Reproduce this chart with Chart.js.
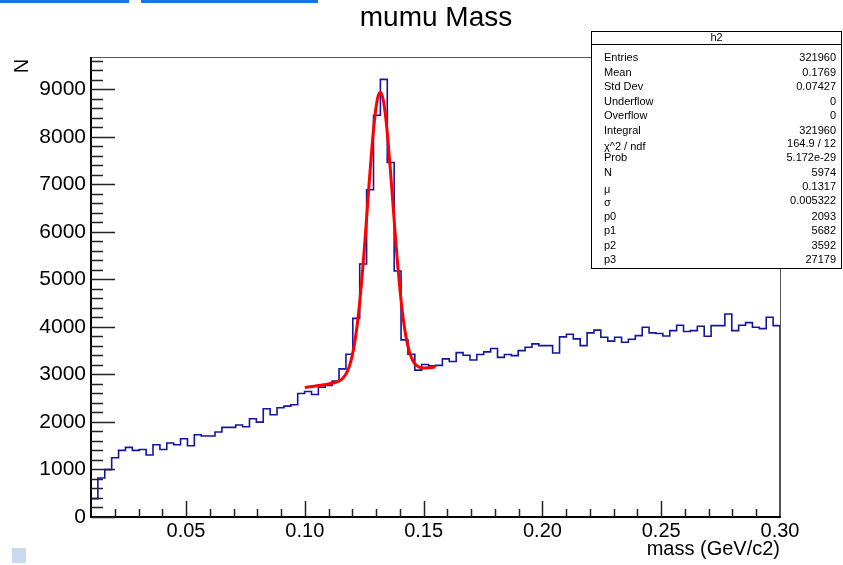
<!DOCTYPE html>
<html>
<head>
<meta charset="utf-8">
<title>mumu Mass</title>
<script src="https://cdn.jsdelivr.net/npm/chart.js"></script>
<style>
  html, body { margin: 0; padding: 0; background: #fff; }
  #wrap { width: 843px; height: 565px; position: relative; }
</style>
</head>
<body>
<div id="wrap"><canvas id="myChart"></canvas></div>
<script>
// histogram h2 : 100 bins between 0.01 and 0.30
const binLow = 0.01;
const binHigh = 0.30;
const nBins = 100;
const counts = [
  387, 821, 996, 1248, 1401, 1465, 1401, 1422, 1304, 1521,
  1422, 1556, 1521, 1647, 1500, 1731, 1706, 1706, 1790, 1885,
  1885, 1935, 1900, 2067, 1997, 2277, 2151, 2300, 2333, 2361,
  2600, 2641, 2578, 2729, 2770, 2860, 3118, 3425, 4180, 5324,
  6885, 8454, 9210, 7460, 5176, 3727, 3426, 3090, 3210, 3180,
  3190, 3328, 3271, 3460, 3405, 3303, 3420, 3475, 3545, 3360,
  3420, 3395, 3502, 3573, 3643, 3607, 3607, 3450, 3790, 3845,
  3748, 3607, 3874, 3933, 3783, 3700, 3783, 3678, 3740, 3817,
  3994, 3874, 3860, 3810, 3923, 4035, 3905, 3923, 4013, 3804,
  4027, 4027, 4273, 3923, 4035, 4090, 3994, 3965, 4203, 4027
];

// red fit line
const fitX = [0.100, 0.104, 0.108, 0.112, 0.114, 0.116, 0.118, 0.119, 0.120, 0.121,
              0.122, 0.123, 0.124, 0.125, 0.126, 0.127, 0.128, 0.129, 0.130, 0.131,
              0.132, 0.133, 0.134, 0.135, 0.136, 0.137, 0.138, 0.139, 0.140, 0.141,
              0.142, 0.143, 0.144, 0.145, 0.146, 0.148, 0.150, 0.152, 0.155];
const fitY = [2724, 2753, 2783, 2819, 2851, 2920, 3076, 3212, 3407, 3673,
              4024, 4467, 5002, 5617, 6287, 6973, 7628, 8196, 8629, 8883,
              8933, 8775, 8426, 7921, 7311, 6647, 5982, 5357, 4804, 4339,
              3968, 3685, 3480, 3338, 3245, 3156, 3134, 3139, 3161];

// axis ticks
const xTicks = [0.05, 0.10, 0.15, 0.20, 0.25, 0.30];
const yTicks = [0, 1000, 2000, 3000, 4000, 5000, 6000, 7000, 8000, 9000];
const yMax = 9680;

// stats box
const statNames = ['Entries', 'Mean', 'Std Dev', 'Underflow', 'Overflow', 'Integral',
                   'χ^2 / ndf', 'Prob', 'N', 'μ', 'σ', 'p0', 'p1', 'p2', 'p3'];
const statValues = ['321960', '0.1769', '0.07427', '0', '0', '321960',
                    '164.9 / 12', '5.172e-29', '5974', '0.1317', '0.005322', '2093', '5682', '3592', '27179'];
// y position of each row (labels / values)
const statNameY = [58, 72.5, 87, 101.5, 116, 130.5, 147, 158, 173, 189.5, 203, 216.5, 231, 245.5, 260];
const statValueY = [58, 72.5, 87, 101.5, 116, 130.5, 144, 158, 173, 186.5, 201, 216.5, 231, 245.5, 260];

const font = '"Liberation Sans", Arial, Helvetica, sans-serif';
Chart.defaults.font.family = font;

// step points for the histogram outline
const binWidth = (binHigh - binLow) / nBins;
const histPoints = [{x: binLow, y: 0}];
for (let i = 0; i < nBins; i++) {
  histPoints.push({x: binLow + i * binWidth, y: counts[i]});
}
histPoints.push({x: binHigh, y: counts[nBins - 1]});
histPoints.push({x: binHigh, y: 0});

const fitPoints = fitX.map((x, i) => ({x: x, y: fitY[i]}));

// frame, ticks, titles and stats box like ROOT
const rootPad = {
  id: 'rootPad',
  beforeDraw(chart) {
    const ctx = chart.ctx;
    ctx.save();
    ctx.fillStyle = '#1a73e8';
    ctx.fillRect(0, 0, 129, 3);
    ctx.fillRect(141, 0, 177, 3);
    ctx.fillStyle = '#c9d9ee';
    ctx.fillRect(12, 548, 14, 15);
    ctx.restore();
  },
  afterDraw(chart) {
    const ctx = chart.ctx;
    const a = chart.chartArea;
    const xs = chart.scales.x;
    const ys = chart.scales.y;
    ctx.save();

    // frame
    ctx.strokeStyle = '#555';
    ctx.lineWidth = 1;
    ctx.beginPath();
    ctx.moveTo(a.left, a.top + 0.5);
    ctx.lineTo(a.right + 0.5, a.top + 0.5);
    ctx.lineTo(a.right + 0.5, a.bottom);
    ctx.stroke();
    ctx.strokeStyle = '#000';
    ctx.lineWidth = 2;
    ctx.beginPath();
    ctx.moveTo(a.left, a.top);
    ctx.lineTo(a.left, a.bottom);
    ctx.lineTo(a.right + 1, a.bottom);
    ctx.stroke();

    // ticks inside the frame
    ctx.strokeStyle = '#222';
    ctx.lineWidth = 1.5;
    ctx.beginPath();
    for (let v = 0; v <= yMax; v += 200) {
      const py = Math.round(ys.getPixelForValue(v)) + 0.5;
      const len = (v % 1000 === 0) ? 24 : 12;
      ctx.moveTo(a.left, py);
      ctx.lineTo(a.left + len, py);
    }
    for (let k = 2; k <= 29; k++) {
      const px = Math.round(xs.getPixelForValue(k / 100)) + 0.5;
      const len = (k % 5 === 0) ? 16 : 8;
      ctx.moveTo(px, a.bottom);
      ctx.lineTo(px, a.bottom - len);
    }
    ctx.stroke();

    // titles
    ctx.fillStyle = '#000';
    ctx.textBaseline = 'middle';
    ctx.textAlign = 'center';
    ctx.font = '28px ' + font;
    ctx.fillText('mumu Mass', 436, 18);

    ctx.font = '20px ' + font;
    ctx.textAlign = 'right';
    ctx.fillText('mass (GeV/c2)', a.right, 549);

    ctx.save();
    ctx.translate(22, 66);
    ctx.rotate(-Math.PI / 2);
    ctx.textAlign = 'center';
    ctx.fillText('N', 0, 0);
    ctx.restore();

    // stats box
    const bx = 591, by = 31, bw = 251, bh = 237;
    ctx.fillStyle = '#fff';
    ctx.fillRect(bx, by, bw, bh);
    ctx.strokeStyle = '#000';
    ctx.lineWidth = 1;
    ctx.strokeRect(bx + 0.5, by + 0.5, bw - 1, bh);
    ctx.beginPath();
    ctx.moveTo(bx, by + 13.5);
    ctx.lineTo(bx + bw, by + 13.5);
    ctx.stroke();

    ctx.fillStyle = '#000';
    ctx.font = '11px ' + font;
    ctx.textAlign = 'center';
    ctx.fillText('h2', bx + bw / 2, by + 7);
    for (let i = 0; i < statNames.length; i++) {
      ctx.textAlign = 'left';
      ctx.fillText(statNames[i], 604, statNameY[i]);
      ctx.textAlign = 'right';
      ctx.fillText(statValues[i], 836, statValueY[i]);
    }
    ctx.restore();
  }
};

new Chart(document.getElementById('myChart'), {
  type: 'scatter',
  data: {
    datasets: [{
      label: 'h2',
      data: histPoints,
      showLine: true,
      stepped: 'before',
      borderColor: '#1515a0',
      borderWidth: 1.6,
      pointRadius: 0,
      fill: false,
      order: 2
    }, {
      label: 'fit',
      data: fitPoints,
      showLine: true,
      cubicInterpolationMode: 'monotone',
      borderColor: '#ff0000',
      borderWidth: 3,
      pointRadius: 0,
      fill: false,
      order: 1
    }]
  },
  options: {
    responsive: true,
    maintainAspectRatio: false,
    animation: false,
    layout: { padding: { top: 57, right: 63, left: 0, bottom: 0 } },
    plugins: {
      legend: { display: false },
      tooltip: { enabled: false }
    },
    scales: {
      x: {
        type: 'linear',
        min: binLow,
        max: binHigh,
        grid: { display: false, drawTicks: false },
        border: { display: false },
        afterBuildTicks: (scale) => { scale.ticks = xTicks.map(v => ({value: v})); },
        afterFit: (scale) => { scale.height = 48; },
        ticks: {
          padding: 2,
          color: '#000',
          font: { size: 20 },
          maxRotation: 0,
          autoSkip: false,
          callback: (v) => Number(v).toFixed(2)
        }
      },
      y: {
        type: 'linear',
        min: 0,
        max: yMax,
        grid: { display: false, drawTicks: false },
        border: { display: false },
        afterBuildTicks: (scale) => { scale.ticks = yTicks.map(v => ({value: v})); },
        afterFit: (scale) => { scale.width = 91; },
        ticks: {
          padding: 5,
          color: '#000',
          font: { size: 21 },
          autoSkip: false,
          callback: (v) => String(v)
        }
      }
    }
  },
  plugins: [rootPad]
});
</script>
</body>
</html>
